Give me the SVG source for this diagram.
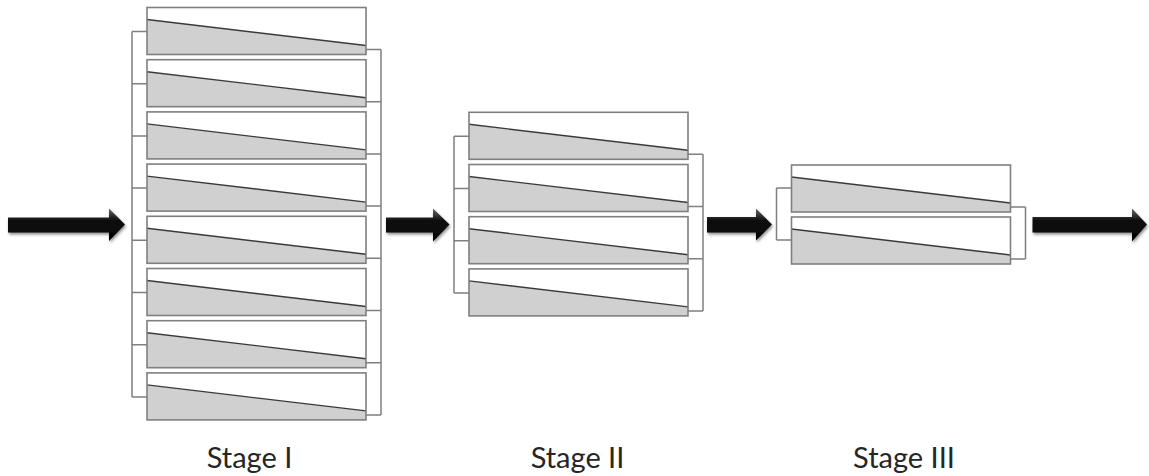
<svg xmlns="http://www.w3.org/2000/svg" xmlns:xlink="http://www.w3.org/1999/xlink" width="1149" height="476" viewBox="0 0 1149 476">
<style>
.wire{fill:none;stroke:#7f7f7f;stroke-width:1.5}
.lbl{font-family:Lato,"Open Sans","Liberation Sans",sans-serif;font-size:29px;fill:#262626;text-anchor:middle}
.arrow{fill:url(#ag);filter:url(#sh)}
</style>
<defs>
<linearGradient id="ag" x1="0" y1="0" x2="0" y2="1">
<stop offset="0" stop-color="#6a6a6a"/>
<stop offset="0.35" stop-color="#111"/>
<stop offset="1" stop-color="#000"/>
</linearGradient>
<filter id="sh" x="-10%" y="-40%" width="120%" height="190%">
<feGaussianBlur in="SourceAlpha" stdDeviation="1.5"/>
<feOffset dx="1" dy="2" result="b"/>
<feComponentTransfer><feFuncA type="linear" slope="0.45"/></feComponentTransfer>
<feMerge><feMergeNode/><feMergeNode in="SourceGraphic"/></feMerge>
</filter>
<g id="unit">
<rect x="0" y="0" width="219" height="47" fill="#fff"/>
<polygon points="0,12 219,38 219,47 0,47" fill="#d0d0d0"/>
<line x1="0" y1="12" x2="219" y2="38" stroke="#3a3a3a" stroke-width="1.4"/>
<rect x="0" y="0" width="219" height="47" fill="none" stroke="#7f7f7f" stroke-width="1.6"/>
</g>
</defs>

<g id="connectors">
<path class="wire" d="M132,31.5 V396.9 M132,31.5 H147 M132,83.7 H147 M132,135.9 H147 M132,188.1 H147 M132,240.3 H147 M132,292.5 H147 M132,344.7 H147 M132,396.9 H147"/>
<path class="wire" d="M381,49.5 V414.9 M366,49.5 H381 M366,101.7 H381 M366,153.9 H381 M366,206.1 H381 M366,258.3 H381 M366,310.5 H381 M366,362.7 H381 M366,414.9 H381"/>
<path class="wire" d="M454,136.3 V292.9 M454,136.3 H469 M454,188.5 H469 M454,240.7 H469 M454,292.9 H469"/>
<path class="wire" d="M703,154.3 V310.9 M688,154.3 H703 M688,206.5 H703 M688,258.7 H703 M688,310.9 H703"/>
<path class="wire" d="M776.5,188 V240 M776.5,188 H792 M776.5,240 H792"/>
<path class="wire" d="M1025.5,207 V259 M1010,207 H1025.5 M1010,259 H1025.5"/>
<polygon class="arrow" points="8,217.5 109,217.5 109,208.5 125,224.5 109,241 109,232.5 8,232.5"/>
<polygon class="arrow" points="386,217.5 433,217.5 433,208.5 449.5,224.5 433,241.5 433,232.5 386,232.5"/>
<polygon class="arrow" points="707,217 756,217 756,208.5 772,224.5 756,240.5 756,232.5 707,232.5"/>
<polygon class="arrow" points="1032.5,217 1132,217 1132,208.5 1147,224.5 1132,241.5 1132,232.5 1032.5,232.5"/>
</g>

<g id="stage1">
<use id="s1b1" xlink:href="#unit" x="147" y="7.5"/>
<use id="s1b2" xlink:href="#unit" x="147" y="59.7"/>
<use id="s1b3" xlink:href="#unit" x="147" y="111.9"/>
<use id="s1b4" xlink:href="#unit" x="147" y="164.1"/>
<use id="s1b5" xlink:href="#unit" x="147" y="216.3"/>
<use id="s1b6" xlink:href="#unit" x="147" y="268.5"/>
<use id="s1b7" xlink:href="#unit" x="147" y="320.7"/>
<use id="s1b8" xlink:href="#unit" x="147" y="372.9"/>
<text class="lbl" x="249.5" y="468">Stage I</text>
</g>
<g id="stage2">
<use id="s2b1" xlink:href="#unit" x="469" y="112.3"/>
<use id="s2b2" xlink:href="#unit" x="469" y="164.5"/>
<use id="s2b3" xlink:href="#unit" x="469" y="216.7"/>
<use id="s2b4" xlink:href="#unit" x="469" y="268.9"/>
<text class="lbl" x="577.5" y="468">Stage II</text>
</g>
<g id="stage3">
<use id="s3b1" xlink:href="#unit" x="791.5" y="165"/>
<use id="s3b2" xlink:href="#unit" x="791.5" y="217"/>
<text class="lbl" x="904" y="468">Stage III</text>
</g>
</svg>
